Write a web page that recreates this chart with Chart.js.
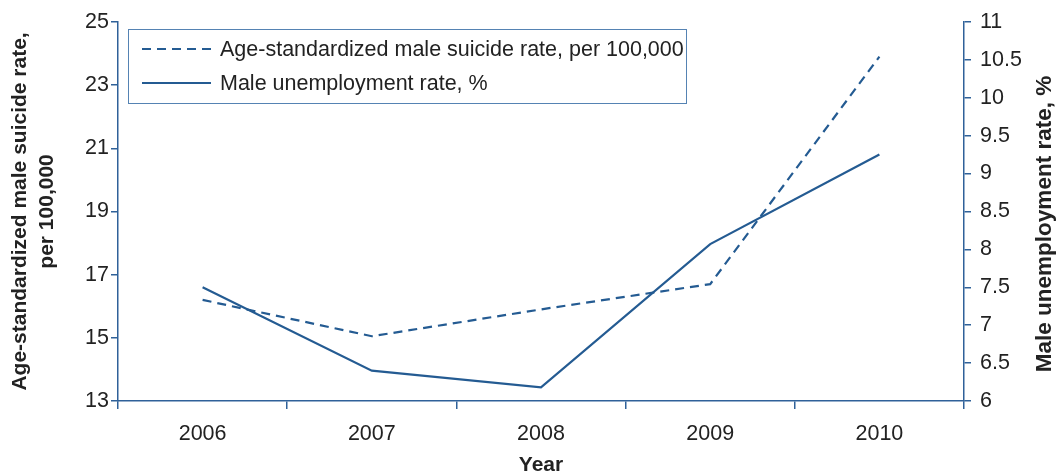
<!DOCTYPE html>
<html><head><meta charset="utf-8">
<script src="https://cdn.jsdelivr.net/npm/chart.js@4/dist/chart.umd.min.js"></script>
<style>html,body{margin:0;padding:0;background:#fff}#wrap{width:1060px;height:474px}</style>
</head><body><div id="wrap"><canvas id="c" width="1060" height="474"></canvas></div>
<script>
const years = ['2006', '2007', '2008', '2009', '2010'];
const suicideRate = [16.2, 15.05, 15.9, 16.7, 23.9];
const unemploymentRate = [7.5, 6.4, 6.18, 8.07, 9.25];
const leftTicks = [13, 15, 17, 19, 21, 23, 25];
const rightTicks = [6, 6.5, 7, 7.5, 8, 8.5, 9, 9.5, 10, 10.5, 11];
const suicideLabel = 'Age-standardized male suicide rate, per 100,000';
const unempLabel = 'Male unemployment rate, %';
const leftTitle = ['Age-standardized male suicide rate,', 'per 100,000'];
const xTitle = 'Year';

const FONT = "'Liberation Sans', Arial, Helvetica, sans-serif";
const lineColor = '#245b92';
const axisColor = '#2f6199';
const textColor = '#222222';

const legendPlugin = {
  id: 'boxLegend',
  afterDraw(chart) {
    const ctx = chart.ctx;
    ctx.save();
    ctx.strokeStyle = '#5583b3';
    ctx.lineWidth = 1;
    ctx.strokeRect(128.5, 29.5, 558, 74);
    const rows = [49, 83];
    chart.data.datasets.forEach((ds, i) => {
      const y = rows[i];
      ctx.beginPath();
      ctx.setLineDash(ds.borderDash || []);
      ctx.strokeStyle = ds.borderColor;
      ctx.lineWidth = ds.borderWidth;
      ctx.moveTo(142, y);
      ctx.lineTo(211, y);
      ctx.stroke();
      ctx.setLineDash([]);
      ctx.fillStyle = textColor;
      ctx.font = '21.5px ' + FONT;
      ctx.textBaseline = 'middle';
      ctx.textAlign = 'left';
      ctx.fillText(ds.label, 220, y + 1);
    });
    ctx.restore();
  }
};

const rightTitlePlugin = {
  id: 'rightTitle',
  afterDraw(chart) {
    const ctx = chart.ctx;
    ctx.save();
    ctx.translate(1045, 224);
    ctx.rotate(-Math.PI / 2);
    ctx.fillStyle = textColor;
    ctx.font = 'bold 22.5px ' + FONT;
    ctx.textAlign = 'center';
    ctx.textBaseline = 'middle';
    ctx.fillText(unempLabel, 0, 0);
    ctx.restore();
  }
};

new Chart(document.getElementById('c'), {
  type: 'line',
  data: {
    labels: years,
    datasets: [
      {
        label: suicideLabel,
        data: suicideRate,
        yAxisID: 'y',
        borderColor: lineColor,
        borderWidth: 2.2,
        borderDash: [9, 6],
        pointRadius: 0,
        tension: 0,
        fill: false
      },
      {
        label: unempLabel,
        data: unemploymentRate,
        yAxisID: 'y1',
        borderColor: lineColor,
        borderWidth: 2.2,
        pointRadius: 0,
        tension: 0,
        fill: false
      }
    ]
  },
  options: {
    responsive: false,
    devicePixelRatio: 1,
    animation: false,
    layout: { padding: { top: 21, left: 0, right: 0, bottom: 0 } },
    plugins: { legend: { display: false }, tooltip: { enabled: false }, title: { display: false } },
    scales: {
      x: {
        type: 'category',
        offset: true,
        grid: { offset: true, drawOnChartArea: false, drawTicks: true, tickLength: 8, color: axisColor, lineWidth: 1.5 },
        border: { display: true, color: axisColor, width: 1.5 },
        ticks: { color: textColor, font: { family: FONT, size: 21.5 }, padding: 12, maxRotation: 0 },
        title: { display: true, text: xTitle, color: textColor, font: { family: FONT, size: 21, weight: 'bold', lineHeight: '18px' }, padding: { top: 0, bottom: 0 } },
        afterFit(s) { s.height = 73; }
      },
      y: {
        position: 'left',
        min: 13, max: 25,
        afterBuildTicks(s) { s.ticks = leftTicks.map(v => ({ value: v })); },
        grid: { drawOnChartArea: false, drawTicks: true, tickLength: 7, color: axisColor, lineWidth: 1.5 },
        border: { display: true, color: axisColor, width: 1.5 },
        ticks: { color: textColor, font: { family: FONT, size: 21.5 }, padding: 2, callback: v => String(v) },
        title: { display: true, text: leftTitle, color: textColor, font: { family: FONT, size: 21, weight: 'bold', lineHeight: 1.27 }, padding: { top: 7, bottom: 0 } },
        afterFit(s) { s.width = 118; }
      },
      y1: {
        position: 'right',
        min: 6, max: 11,
        afterBuildTicks(s) { s.ticks = rightTicks.map(v => ({ value: v })); },
        grid: { drawOnChartArea: false, drawTicks: true, tickLength: 7, color: axisColor, lineWidth: 1.5 },
        border: { display: true, color: axisColor, width: 1.5 },
        ticks: { color: textColor, font: { family: FONT, size: 21.5 }, padding: 9, callback: v => String(v) },
        afterFit(s) { s.width = 96; }
      }
    }
  },
  plugins: [legendPlugin, rightTitlePlugin]
});
</script>
</body></html>
